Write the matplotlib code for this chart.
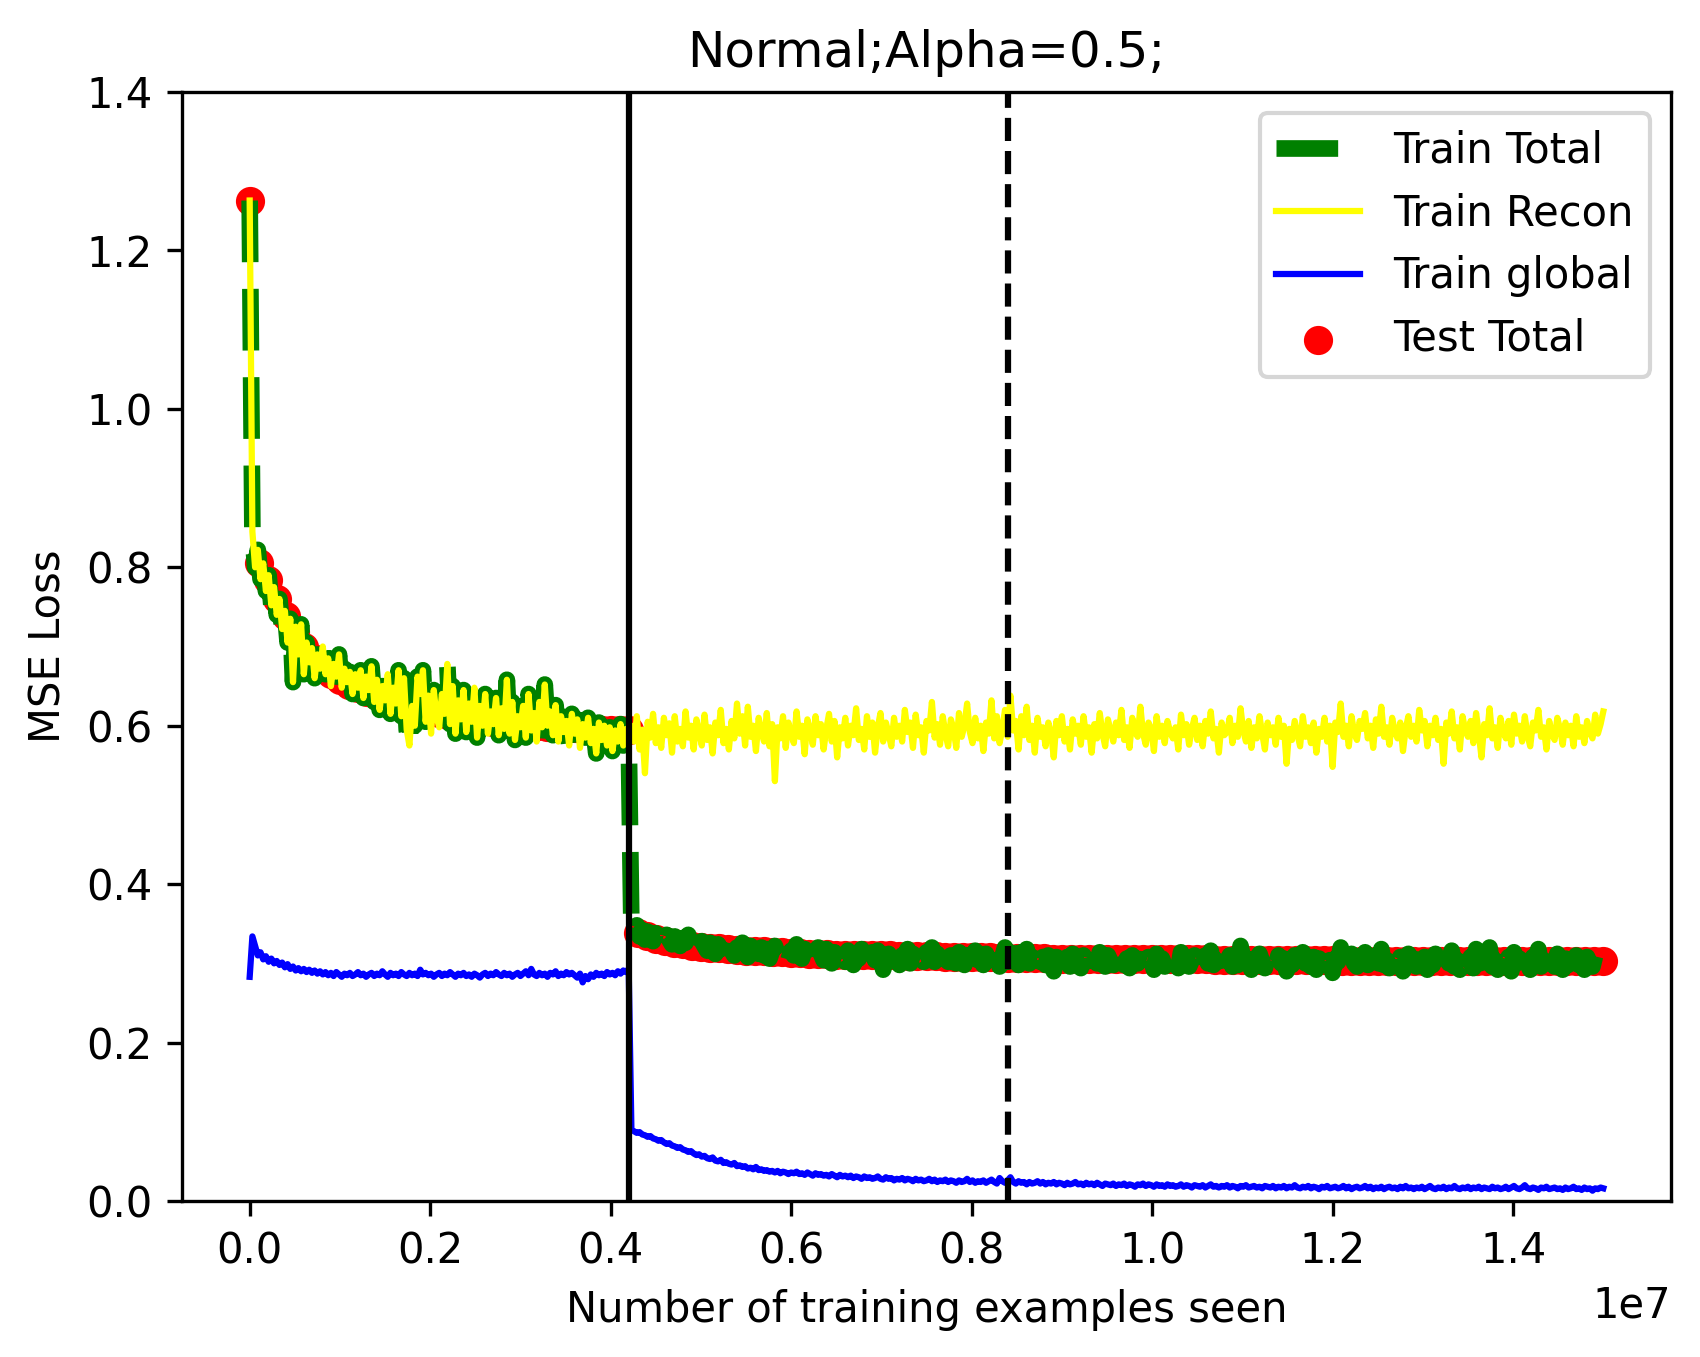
import numpy as np
import matplotlib
matplotlib.use("Agg")
import matplotlib.pyplot as plt

# phase 1: 0 .. 4.2e6 examples, phase 2: 4.23e6 .. 1.5e7 (logged every 3e4 examples)
switch_point = 4.2e6

recon_p1 = [1.263, 0.845, 0.800, 0.822, 0.785, 0.805, 0.770, 0.790, 0.752, 0.775,
            0.740, 0.760, 0.722, 0.745, 0.705, 0.735, 0.655, 0.725, 0.690, 0.728,
            0.665, 0.705, 0.680, 0.698, 0.660, 0.690, 0.672, 0.700, 0.665, 0.685,
            0.650, 0.678, 0.662, 0.690, 0.648, 0.672, 0.655, 0.668, 0.640, 0.665,
            0.648, 0.670, 0.635, 0.662, 0.645, 0.675, 0.630, 0.658, 0.620, 0.650,
            0.632, 0.665, 0.615, 0.648, 0.628, 0.670, 0.612, 0.660, 0.595, 0.575,
            0.625, 0.600, 0.662, 0.640, 0.670, 0.605, 0.638, 0.590, 0.645, 0.612,
            0.598, 0.640, 0.615, 0.678, 0.602, 0.650, 0.590, 0.632, 0.608, 0.645,
            0.592, 0.628, 0.605, 0.648, 0.585, 0.625, 0.600, 0.640, 0.590, 0.618,
            0.602, 0.635, 0.588, 0.622, 0.596, 0.658, 0.590, 0.630, 0.582, 0.612,
            0.598, 0.625, 0.585, 0.640, 0.594, 0.616, 0.580, 0.630, 0.598, 0.652,
            0.600, 0.618, 0.588, 0.626, 0.580, 0.612, 0.592, 0.606, 0.575, 0.615,
            0.590, 0.608, 0.572, 0.602, 0.585, 0.610, 0.578, 0.596, 0.565, 0.604,
            0.582, 0.600, 0.575, 0.598, 0.568, 0.594, 0.580, 0.602, 0.575, 0.596,
            0.585]

recon_p2 = [0.600, 0.580, 0.612, 0.570, 0.595, 0.540, 0.605, 0.585, 0.615, 0.578,
            0.598, 0.572, 0.610, 0.588, 0.603, 0.566, 0.612, 0.580, 0.596, 0.574,
            0.618, 0.585, 0.600, 0.570, 0.608, 0.592, 0.575, 0.614, 0.582, 0.598,
            0.565, 0.604, 0.588, 0.620, 0.578, 0.596, 0.570, 0.606, 0.584, 0.628,
            0.590, 0.612, 0.575, 0.624, 0.586, 0.600, 0.568, 0.610, 0.592, 0.580,
            0.616, 0.574, 0.602, 0.530, 0.598, 0.584, 0.612, 0.572, 0.604, 0.590,
            0.578, 0.618, 0.586, 0.600, 0.564, 0.608, 0.594, 0.576, 0.612, 0.588,
            0.602, 0.570, 0.596, 0.615, 0.580, 0.606, 0.560, 0.598, 0.584, 0.610,
            0.575, 0.600, 0.588, 0.622, 0.582, 0.596, 0.570, 0.612, 0.586, 0.604,
            0.566, 0.598, 0.616, 0.580, 0.604, 0.590, 0.574, 0.610, 0.586, 0.600,
            0.580, 0.620, 0.592, 0.604, 0.572, 0.614, 0.588, 0.598, 0.566, 0.606,
            0.594, 0.630, 0.585, 0.602, 0.576, 0.612, 0.590, 0.574, 0.608, 0.596,
            0.572, 0.616, 0.586, 0.600, 0.628, 0.592, 0.578, 0.610, 0.584, 0.600,
            0.568, 0.604, 0.590, 0.632, 0.584, 0.612, 0.578, 0.596, 0.620, 0.586,
            0.638, 0.594, 0.606, 0.570, 0.612, 0.588, 0.624, 0.582, 0.600, 0.566,
            0.610, 0.586, 0.598, 0.574, 0.604, 0.592, 0.560, 0.606, 0.588, 0.612,
            0.580, 0.596, 0.570, 0.608, 0.590, 0.600, 0.576, 0.612, 0.586, 0.598,
            0.566, 0.602, 0.584, 0.616, 0.590, 0.574, 0.608, 0.594, 0.580, 0.604,
            0.588, 0.620, 0.582, 0.598, 0.572, 0.610, 0.592, 0.586, 0.624, 0.590,
            0.576, 0.604, 0.596, 0.568, 0.612, 0.586, 0.600, 0.578, 0.606, 0.592,
            0.584, 0.598, 0.570, 0.614, 0.588, 0.602, 0.576, 0.596, 0.610, 0.582,
            0.600, 0.574, 0.606, 0.590, 0.618, 0.584, 0.596, 0.566, 0.604, 0.588,
            0.592, 0.610, 0.578, 0.600, 0.586, 0.622, 0.594, 0.580, 0.606, 0.572,
            0.598, 0.584, 0.612, 0.590, 0.570, 0.604, 0.588, 0.598, 0.576, 0.610,
            0.586, 0.600, 0.552, 0.596, 0.582, 0.606, 0.590, 0.574, 0.612, 0.586,
            0.598, 0.578, 0.604, 0.566, 0.596, 0.586, 0.610, 0.580, 0.600, 0.548,
            0.604, 0.592, 0.628, 0.586, 0.600, 0.574, 0.612, 0.590, 0.582, 0.606,
            0.596, 0.616, 0.584, 0.600, 0.572, 0.608, 0.590, 0.624, 0.586, 0.598,
            0.576, 0.610, 0.592, 0.584, 0.604, 0.568, 0.596, 0.612, 0.586, 0.600,
            0.580, 0.620, 0.594, 0.606, 0.574, 0.600, 0.588, 0.610, 0.582, 0.596,
            0.552, 0.604, 0.590, 0.618, 0.584, 0.598, 0.570, 0.612, 0.594, 0.586,
            0.606, 0.578, 0.616, 0.590, 0.560, 0.602, 0.588, 0.622, 0.584, 0.598,
            0.572, 0.610, 0.592, 0.584, 0.606, 0.576, 0.614, 0.590, 0.600, 0.580,
            0.612, 0.588, 0.574, 0.604, 0.594, 0.620, 0.586, 0.598, 0.570, 0.606,
            0.590, 0.582, 0.610, 0.596, 0.576, 0.604, 0.588, 0.600, 0.574, 0.612,
            0.586, 0.598, 0.578, 0.606, 0.592, 0.584, 0.614, 0.590, 0.602, 0.618]

global_p1 = [0.283, 0.334, 0.322, 0.310, 0.314, 0.305, 0.309, 0.302, 0.306, 0.300,
             0.303, 0.298, 0.301, 0.295, 0.299, 0.293, 0.296, 0.291, 0.294, 0.290,
             0.293, 0.289, 0.292, 0.288, 0.291, 0.287, 0.290, 0.286, 0.289, 0.285,
             0.288, 0.284, 0.289, 0.286, 0.283, 0.287, 0.285, 0.288, 0.284, 0.286,
             0.289, 0.285, 0.287, 0.283, 0.286, 0.288, 0.284, 0.287, 0.285, 0.290,
             0.286, 0.283, 0.288, 0.285, 0.287, 0.284, 0.289, 0.286, 0.284, 0.288,
             0.285, 0.287, 0.284, 0.292, 0.286, 0.288, 0.285, 0.287, 0.283, 0.286,
             0.288, 0.284, 0.287, 0.285, 0.289, 0.286, 0.283, 0.287, 0.285, 0.288,
             0.284, 0.286, 0.283, 0.287, 0.285, 0.282, 0.286, 0.288, 0.284, 0.287,
             0.285, 0.289, 0.286, 0.284, 0.288, 0.285, 0.287, 0.283, 0.286, 0.288,
             0.284, 0.287, 0.290, 0.285, 0.293, 0.286, 0.284, 0.288, 0.285, 0.287,
             0.283, 0.288, 0.286, 0.290, 0.284, 0.287, 0.285, 0.289, 0.286, 0.288,
             0.285, 0.282, 0.287, 0.276, 0.284, 0.280, 0.286, 0.283, 0.288, 0.285,
             0.287, 0.284, 0.289, 0.286, 0.288, 0.285, 0.290, 0.287, 0.291, 0.289,
             0.293]

global_p2 = [0.090, 0.088, 0.086, 0.087, 0.084, 0.083, 0.081, 0.082, 0.079, 0.078,
             0.076, 0.077, 0.074, 0.072, 0.073, 0.070, 0.069, 0.067, 0.068, 0.065,
             0.064, 0.062, 0.063, 0.060, 0.058, 0.059, 0.056, 0.057, 0.054, 0.053,
             0.055, 0.051, 0.050, 0.052, 0.048, 0.049, 0.047, 0.046, 0.048, 0.044,
             0.045, 0.043, 0.044, 0.041, 0.042, 0.040, 0.043, 0.039, 0.040, 0.038,
             0.039, 0.037, 0.038, 0.036, 0.038, 0.035, 0.037, 0.036, 0.034, 0.036,
             0.035, 0.037, 0.034, 0.035, 0.033, 0.036, 0.034, 0.032, 0.035, 0.033,
             0.034, 0.032, 0.033, 0.031, 0.034, 0.032, 0.030, 0.033, 0.031, 0.032,
             0.030, 0.032, 0.029, 0.031, 0.030, 0.028, 0.031, 0.029, 0.030, 0.028,
             0.029, 0.031, 0.028, 0.027, 0.030, 0.028, 0.029, 0.026, 0.028, 0.027,
             0.029, 0.026, 0.028, 0.027, 0.025, 0.028, 0.026, 0.027, 0.025, 0.026,
             0.028, 0.025, 0.027, 0.024, 0.026, 0.025, 0.027, 0.024, 0.026, 0.025,
             0.023, 0.026, 0.024, 0.025, 0.028, 0.024, 0.026, 0.023, 0.025, 0.024,
             0.026, 0.023, 0.025, 0.027, 0.024, 0.022, 0.029, 0.025, 0.023, 0.026,
             0.030, 0.024, 0.022, 0.025, 0.023, 0.024, 0.021, 0.024, 0.022, 0.023,
             0.025, 0.022, 0.024, 0.021, 0.023, 0.022, 0.024, 0.021, 0.023, 0.022,
             0.020, 0.023, 0.021, 0.022, 0.024, 0.021, 0.022, 0.020, 0.023, 0.021,
             0.022, 0.020, 0.023, 0.021, 0.019, 0.022, 0.021, 0.020, 0.022, 0.019,
             0.021, 0.020, 0.022, 0.019, 0.021, 0.020, 0.018, 0.021, 0.020, 0.022,
             0.019, 0.021, 0.020, 0.018, 0.021, 0.019, 0.020, 0.018, 0.021, 0.019,
             0.020, 0.018, 0.019, 0.021, 0.018, 0.020, 0.019, 0.017, 0.020, 0.019,
             0.018, 0.020, 0.017, 0.019, 0.021, 0.018, 0.019, 0.017, 0.019, 0.018,
             0.020, 0.017, 0.019, 0.018, 0.016, 0.019, 0.018, 0.020, 0.017, 0.018,
             0.019, 0.017, 0.018, 0.016, 0.019, 0.018, 0.017, 0.019, 0.016, 0.018,
             0.017, 0.019, 0.016, 0.018, 0.017, 0.020, 0.017, 0.016, 0.018, 0.017,
             0.019, 0.016, 0.018, 0.017, 0.015, 0.018, 0.017, 0.019, 0.016, 0.017,
             0.018, 0.016, 0.017, 0.019, 0.016, 0.018, 0.015, 0.017, 0.018, 0.016,
             0.017, 0.019, 0.016, 0.018, 0.015, 0.017, 0.016, 0.018, 0.015, 0.017,
             0.018, 0.016, 0.017, 0.015, 0.018, 0.016, 0.019, 0.016, 0.017, 0.015,
             0.017, 0.016, 0.018, 0.015, 0.017, 0.019, 0.016, 0.015, 0.017, 0.016,
             0.018, 0.015, 0.017, 0.016, 0.019, 0.016, 0.015, 0.017, 0.016, 0.018,
             0.015, 0.017, 0.016, 0.018, 0.015, 0.017, 0.016, 0.015, 0.018, 0.016,
             0.017, 0.015, 0.016, 0.018, 0.015, 0.017, 0.019, 0.016, 0.015, 0.017,
             0.020, 0.016, 0.015, 0.017, 0.016, 0.014, 0.017, 0.016, 0.018, 0.015,
             0.016, 0.017, 0.015, 0.016, 0.014, 0.017, 0.015, 0.016, 0.018, 0.015,
             0.016, 0.014, 0.017, 0.015, 0.016, 0.013, 0.016, 0.015, 0.017, 0.016]

# in phase 1 the total loss is just the recon loss
total_p2 = [0.345, 0.338, 0.348, 0.334, 0.342, 0.330, 0.340, 0.336, 0.328, 0.338,
            0.332, 0.340, 0.326, 0.336, 0.330, 0.324, 0.334, 0.328, 0.322, 0.332,
            0.326, 0.336, 0.320, 0.330, 0.324, 0.318, 0.328, 0.322, 0.316, 0.326,
            0.320, 0.312, 0.324, 0.318, 0.330, 0.314, 0.322, 0.316, 0.310, 0.320,
            0.314, 0.326, 0.318, 0.308, 0.322, 0.316, 0.334, 0.312, 0.320, 0.310,
            0.318, 0.306, 0.316, 0.322, 0.312, 0.308, 0.320, 0.314, 0.304, 0.316,
            0.310, 0.324, 0.312, 0.306, 0.318, 0.310, 0.302, 0.316, 0.308, 0.320,
            0.312, 0.304, 0.318, 0.310, 0.300, 0.314, 0.306, 0.320, 0.308, 0.302,
            0.316, 0.308, 0.298, 0.312, 0.306, 0.318, 0.304, 0.296, 0.310, 0.314,
            0.304, 0.316, 0.308, 0.292, 0.306, 0.312, 0.300, 0.316, 0.306, 0.298,
            0.310, 0.304, 0.318, 0.300, 0.312, 0.306, 0.296, 0.310, 0.302, 0.314,
            0.306, 0.320, 0.302, 0.312, 0.298, 0.308, 0.316, 0.302, 0.310, 0.304,
            0.300, 0.314, 0.306, 0.298, 0.326, 0.308, 0.302, 0.316, 0.304, 0.310,
            0.298, 0.312, 0.304, 0.318, 0.300, 0.310, 0.296, 0.308, 0.320, 0.302,
            0.324, 0.306, 0.312, 0.298, 0.314, 0.304, 0.318, 0.300, 0.308, 0.296,
            0.312, 0.302, 0.308, 0.298, 0.310, 0.304, 0.290, 0.308, 0.300, 0.314,
            0.302, 0.308, 0.296, 0.312, 0.304, 0.300, 0.294, 0.310, 0.302, 0.306,
            0.294, 0.308, 0.300, 0.314, 0.304, 0.296, 0.310, 0.302, 0.298, 0.308,
            0.300, 0.316, 0.298, 0.306, 0.294, 0.310, 0.302, 0.300, 0.318, 0.304,
            0.298, 0.308, 0.304, 0.292, 0.312, 0.300, 0.306, 0.296, 0.310, 0.302,
            0.300, 0.306, 0.294, 0.314, 0.300, 0.308, 0.296, 0.304, 0.310, 0.298,
            0.306, 0.294, 0.310, 0.300, 0.316, 0.298, 0.304, 0.288, 0.308, 0.300,
            0.302, 0.310, 0.296, 0.304, 0.298, 0.322, 0.306, 0.296, 0.310, 0.292,
            0.306, 0.300, 0.312, 0.302, 0.294, 0.308, 0.300, 0.304, 0.296, 0.310,
            0.300, 0.306, 0.290, 0.304, 0.298, 0.310, 0.302, 0.294, 0.314, 0.300,
            0.304, 0.296, 0.308, 0.292, 0.306, 0.298, 0.312, 0.300, 0.304, 0.288,
            0.306, 0.302, 0.320, 0.298, 0.306, 0.294, 0.312, 0.300, 0.296, 0.308,
            0.302, 0.314, 0.298, 0.306, 0.292, 0.310, 0.300, 0.318, 0.298, 0.304,
            0.294, 0.310, 0.302, 0.298, 0.308, 0.290, 0.304, 0.312, 0.298, 0.306,
            0.296, 0.318, 0.302, 0.308, 0.292, 0.304, 0.298, 0.312, 0.296, 0.302,
            0.286, 0.306, 0.300, 0.316, 0.296, 0.304, 0.292, 0.312, 0.302, 0.298,
            0.308, 0.294, 0.318, 0.300, 0.288, 0.306, 0.298, 0.320, 0.296, 0.304,
            0.292, 0.312, 0.302, 0.296, 0.308, 0.290, 0.314, 0.300, 0.306, 0.294,
            0.312, 0.300, 0.292, 0.308, 0.302, 0.318, 0.296, 0.304, 0.290, 0.308,
            0.300, 0.296, 0.312, 0.302, 0.292, 0.306, 0.298, 0.304, 0.290, 0.310,
            0.298, 0.304, 0.292, 0.308, 0.300, 0.296, 0.310, 0.298, 0.304, 0.306]

# test loss, every 1e5 examples
test_p1 = [1.263, 0.806, 0.784, 0.760, 0.738, 0.718, 0.700, 0.686, 0.674, 0.665,
           0.658, 0.652, 0.647, 0.643, 0.639, 0.635, 0.631, 0.627, 0.624, 0.621,
           0.618, 0.616, 0.614, 0.612, 0.610, 0.608, 0.606, 0.605, 0.604, 0.603,
           0.602, 0.601, 0.600, 0.599, 0.598, 0.597, 0.597, 0.596, 0.596, 0.595,
           0.595, 0.594, 0.594]
test_p2 = [0.338, 0.334, 0.331, 0.328, 0.326, 0.324, 0.322, 0.321, 0.320, 0.319,
           0.318, 0.317, 0.316, 0.315, 0.315, 0.314, 0.314, 0.313, 0.313, 0.312,
           0.312, 0.312, 0.311, 0.311, 0.311, 0.310, 0.310, 0.310, 0.310, 0.309,
           0.309, 0.309, 0.309, 0.309, 0.308, 0.308, 0.308, 0.308, 0.308, 0.308,
           0.307, 0.307, 0.307, 0.307, 0.307, 0.307, 0.306, 0.306, 0.306, 0.306,
           0.306, 0.306, 0.306, 0.306, 0.305, 0.305, 0.305, 0.305, 0.305, 0.305,
           0.305, 0.305, 0.305, 0.305, 0.304, 0.304, 0.304, 0.304, 0.304, 0.304,
           0.304, 0.304, 0.304, 0.304, 0.304, 0.304, 0.304, 0.304, 0.303, 0.303,
           0.303, 0.303, 0.303, 0.303, 0.303, 0.303, 0.303, 0.303, 0.303, 0.303,
           0.303, 0.303, 0.303, 0.303, 0.303, 0.303, 0.303, 0.303, 0.303, 0.303,
           0.303, 0.303, 0.303, 0.303, 0.303, 0.303, 0.303, 0.303]


def steps(p1, p2, start2):
    x1 = np.linspace(0, switch_point, len(p1))
    x2 = np.linspace(start2, 1.5e7, len(p2))
    return np.concatenate([x1, x2]), np.array(p1 + p2)


x_recon, recon = steps(recon_p1, recon_p2, 4.23e6)
x_total, total = steps(recon_p1, total_p2, 4.23e6)
x_global, glob = steps(global_p1, global_p2, 4.23e6)
x_test, test = steps(test_p1, test_p2, 4.3e6)

fig = plt.figure(figsize=(1700 / 300, 1357 / 300), dpi=300)
ax = fig.add_axes([182 / 1700, 156 / 1357, 1489 / 1700, 1109 / 1357])

ax.plot(x_total, total, color="green", linestyle="--", linewidth=4, label="Train Total")
ax.plot(x_recon, recon, color="yellow", linewidth=1.5, label="Train Recon")
ax.plot(x_global, glob, color="blue", linewidth=1.5, label="Train global")
ax.scatter(x_test, test, color="red", label="Test Total")

ax.axvline(switch_point, color="black")
ax.axvline(2 * switch_point, color="black", linestyle="--")

ax.set_ylim(0, 1.4)
ax.set_title("Normal;Alpha=0.5;")
ax.set_xlabel("Number of training examples seen")
ax.set_ylabel("MSE Loss")
ax.legend(loc="upper right")

fig.savefig("out.png", dpi=300)
